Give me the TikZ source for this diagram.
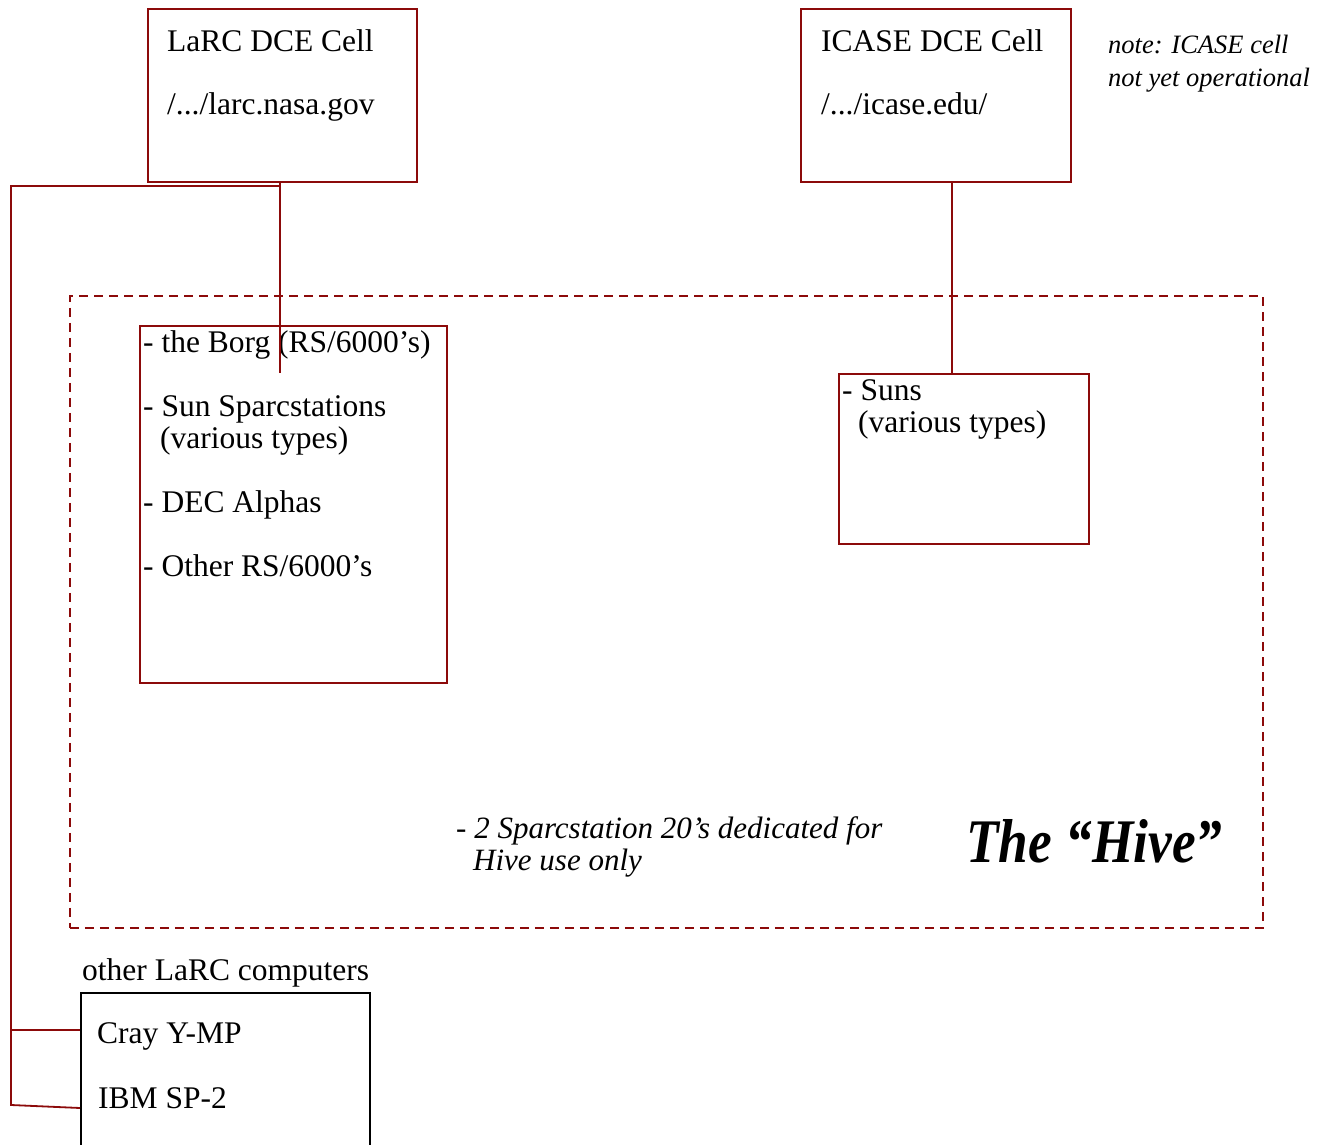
\documentclass[tikz,border=0pt]{standalone}
\usepackage{fontspec}
\setmainfont{Liberation Serif}
\definecolor{dred}{RGB}{140,10,10}
\begin{document}
\begin{tikzpicture}[x=1pt,y=-1pt,
  box/.style={draw=dred,line width=1.8pt,inner sep=0pt,anchor=north west},
  bbox/.style={draw=black,line width=1.8pt,inner sep=0pt,anchor=north west},
  conn/.style={draw=dred,line width=1.8pt},
  txt/.style={anchor=base west,inner sep=0pt,font=\fontsize{31.5}{36}\selectfont},
  notetxt/.style={anchor=base west,inner sep=0pt,font=\fontsize{26.5}{30}\selectfont\itshape},
  hivetxt/.style={anchor=base west,inner sep=0pt,font=\fontsize{31}{34}\selectfont\itshape}]
\useasboundingbox (0,0) rectangle (1326,1145);
% boxes
\node[box,minimum width=269pt,minimum height=173pt] (larc) at (147,8) {};
\node[box,minimum width=270pt,minimum height=173pt] (icase) at (800,8) {};
\node[box,minimum width=307pt,minimum height=357pt] (borg) at (139,325) {};
\node[box,minimum width=250pt,minimum height=170pt] (suns) at (838,373) {};
\node[draw=dred,line width=1.8pt,dash pattern=on 9pt off 6pt,inner sep=0pt,anchor=north west,minimum width=1193pt,minimum height=632pt] (hive) at (69,295) {};
\node[bbox,minimum width=289pt,minimum height=220pt] (other) at (80,992) {};
% texts
\node[txt] (t1) at (167,52) {LaRC DCE Cell};
\node[txt] (t2) at (167,115) {/.../larc.nasa.gov};
\node[txt] (t3) at (821,52) {ICASE DCE Cell};
\node[txt] (t4) at (821,115) {/.../icase.edu/};
\node[notetxt] (n1) at (1108,54) {note: ICASE cell};
\node[notetxt] (n2) at (1108,87) {not yet operational};
\node[txt] (b1) at (143,352) {- the Borg (RS/6000’s)};
\node[txt] (b2) at (143,416) {- Sun Sparcstations};
\node[txt] (b3) at (160,448) {(various types)};
\node[txt] (b4) at (143,512) {- DEC Alphas};
\node[txt] (b5) at (143,576) {- Other RS/6000’s};
\node[txt] (s1) at (842,400) {- Suns};
\node[txt] (s2) at (858,432) {(various types)};
\node[hivetxt] (h1) at (456,838) {- 2 Sparcstation 20’s dedicated for};
\node[hivetxt] (h2) at (473,870) {Hive use only};
\node[anchor=base west,inner sep=0pt,font=\fontsize{62}{70}\selectfont\bfseries\itshape] (hv) at (966,862) {\scalebox{0.86}[1]{The “Hive”}};
\node[txt] (o0) at (82,980) {other LaRC computers};
\node[txt] (o1) at (97,1043) {Cray Y-MP};
\node[txt] (o2) at (98,1108) {IBM SP-2};
% connectors
\coordinate (borgtap) at (280,373);
\coordinate (busjoin) at (280,186);
\coordinate (busTL) at (11,186);
\coordinate (busCray) at (11,1030);
\coordinate (busIBM) at (11,1105);
\draw[conn] (larc.south -| borgtap) -- (borgtap);
\draw[conn] (busjoin) -- (busTL) -- (busIBM) -- (other.west |- 0,1108);
\draw[conn] (busCray) -- (other.west |- busCray);
\draw[conn] (icase.south -| 952,0) -- (suns.north -| 952,0);
\end{tikzpicture}
\end{document}
